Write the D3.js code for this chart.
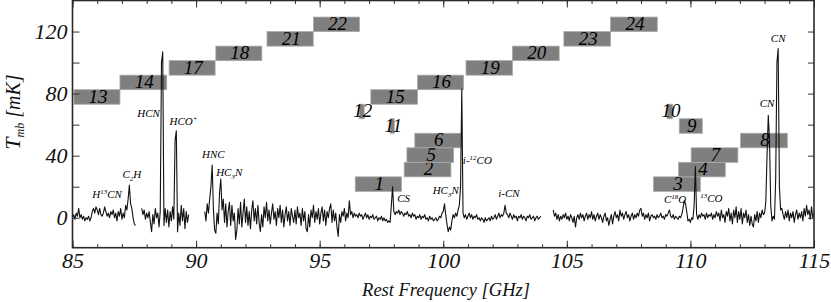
<!DOCTYPE html>
<html>
<head>
<meta charset="utf-8">
<script src="https://cdn.jsdelivr.net/npm/d3@7"></script>
<style>
  body { margin: 0; background: #fff; }
  svg { display: block; font-family: "Liberation Serif", "Times New Roman", serif; font-style: italic; }
</style>
</head>
<body>
<svg id="chart" width="831" height="302"></svg>
<script>
// -------------------- DATA -------------------- //

// spectrum pieces (mK), one value every 0.05 GHz from each start frequency
let freqStep = 0.05;
let segStart = [85.00, 87.80, 90.35, 104.45];

let specA = [
  0, 2, -1, 3, 1, 6, 0, 2, -1, 1, -2, 0, -1, 1, -2, 0, 4, 6, 3, 7,          // 85.00
  5, 2, 6, 2, 1, 3, 7, 4, 1, 3, 0, 4, 2, 5, 0, 3, -2, 4, 1, 6,              // 86.00
  -1, 3, 0, 8, 5, 12, 21, 9, 6, 0, -4, -5                                   // 87.00
];
let specB = [
  6, 2, 5, -1,                                                              // 87.80
  3, 0, 4, -3, -9, 2, -4, 6, 0, 3, -6, 4, 100, 107, -5, 6, -3, 5, -6, 4,    // 88.00
  -2, 7, -1, 50, 56, -9, 3, -5, 8, -2, 6, -7, 4, -3, 2                      // 89.00
];
let specC = [
  4, -2, 9, 3, 12, 20, 34, 6, -8, -10, 3, -4, 16,                           // 90.35
  25, 5, 12, -3, 9, -6, 4, 10, -5, 8, -2, 3, -14, -8, 6, -4, 10, -6, 3, 12, // 91.00
  -3, 7, -5, 4, -7, 5, 11, -2, 6, -4, 8, -3, -9, 2, -6, 7, 0, 10, -2, 5,    // 92.00
  -4, 3, 9, -1, 4, -5, 6, 0, 8, -3, 5, -6, 2, 7, -2, 4, -5, 6, 1, -3,       // 93.00
  5, -4, 7, 0, 3, -5, 6, -2, 4, -7, -9, 2, -6, 5, 0, 8, -3, 4, -1, 6,       // 94.00
  -4, 3, 7, -2, 5, -5, 4, 0, 6, 9, -3, 5, -2, 3, -6, -12, 2, -3, 4, 1,      // 95.00
  6, -2, 3, 0, 11, 2, 4, 0, 3, 1, 2, 0, 3, 1, 2, -1, 1, 3, 0, 2,            // 96.00
  -1, 1, 0, 2, -1, 0, 1, -2, 0, -1, 1, -2, 0, -2, -1, -3, -2, -3, 8, 20,    // 97.00
  4, 2, 4, 3, 5, 2, 4, 3, 1, 3, 2, 4, 1, 2, 0, 3, 1, 2, -1, 1,              // 98.00
  0, 2, -1, 1, 0, 2, -1, 0, -2, 1, -1, 0, -2, -1, 0, -2, -1, 1, 0, 3,       // 99.00
  4, 9, 2, -4, -9, -6, -8, -2, 2, 0, 3, 1, 5, 8, 20, 83, 3, 0, 2, -1,       // 100.00
  1, 3, 0, 2, -1, 1, 0, 2, -1, 0, -2, 0, -1, -3, 0, -2, -1, 0, -2, 1,       // 101.00
  -1, 0, 2, -1, 1, 3, 0, 2, 1, 3, 8, 3, 2, 0, 3, 1, -1, 2, 0, 1,            // 102.00
  -2, 1, 0, 2, -1, 1, 0, -2, 1, 0, 2, -1, 0, 1, -2, 0, 1, -1, 0, 1          // 103.00
];
let specD = [
  5, 1, 3, -1, 2, -2, 1, -1, 2, 0, 3,                                       // 104.45
  -1, 1, -2, 2, 0, -3, 1, -6, 0, 2, -1, 3, 0, 2, -2, 1, 3, -1, 2, 0,        // 105.00
  4, -1, 2, -2, 1, 3, -1, 2, 0, -3, 1, 3, -2, 0, -5, -1, 2, -4, 1, 4,       // 106.00
  0, 2, -2, 5, 1, 3, -1, 2, 4, 0, 2, -2, 1, 3, -1, 2, 0, 3, 1, 5,           // 107.00
  6, 1, 3, -1, 2, 0, 3, -2, 1, 2, 0, 1, -1, 2, 0, 1, 3, 0, 1, -1,           // 108.00
  2, 1, 3, 5, 1, 0, 2, -1, 1, 0, -1, 1, 0, 2, 6, 11, 9, 4, -2, -1,          // 109.00
  -3, 0, -1, 8, 33, 2, -1, 2, 0, 3, 1, 2, -1, 3, 0, 2, 1, 3, -1, 2,         // 110.00
  0, 4, 1, 3, -2, 5, 0, 2, -3, 4, 1, 6, -2, 3, -4, 5, 0, 7, -3, 4,          // 111.00
  -1, 6, -4, 3, 0, 5, -3, 2, -5, 1, -4, -6, 2, -2, 4, -3, 3, 0, 5, 2,       // 112.00
  3, 10, 40, 66, 50, 8, -2, 1, -1, 25, 100, 109, 20, 5, 6, 2, -1, 4, 0, 5,  // 113.00
  -2, 3, 0, 4, -3, 2, 5, -1, 3, 0, 4, -2, 6, 1, 8, 2, 5, -1, 7, 0, 3        // 114.00
];
let spectra = [specA, specB, specC, specD];

// tunings: id, frequency range (GHz), stacking level
let tuningIds   = [1, 2, 3, 4, 5, 6, 7, 8, 9, 10, 11, 12, 13, 14, 15, 16, 17, 18, 19, 20, 21, 22, 23, 24];
let tuningStart = [96.44, 98.42, 108.51, 109.52, 98.53, 98.85, 110.03, 112.03, 109.55, 109.06, 97.85, 96.60,
                   85.06, 86.92, 97.07, 98.96, 88.91, 90.80, 100.92, 102.80, 92.87, 94.75, 104.88, 106.77];
let tuningEnd   = [98.31, 100.31, 110.40, 111.41, 100.42, 100.71, 111.92, 113.92, 110.48, 109.28, 98.02, 96.80,
                   86.92, 88.81, 98.96, 100.82, 90.77, 92.66, 102.80, 104.69, 94.74, 96.61, 106.77, 108.66];
let tuningLevel = [0, 1, 0, 1, 2, 3, 2, 3, 4, 5, 4, 5, 6, 7, 6, 7, 8, 9, 8, 9, 10, 11, 10, 11];

// line identifications ("^" superscript, "_" subscript, parts split by "|")
let lineNames = ["H|^13|CN", "C|_2|H", "HCN", "HCO|^+", "HNC", "HC|_3|N", "CS", "HC|_3|N",
                 "i-|^12|CO", "i-CN", "C|^18|O", "^13|CO", "CN", "CN"];

let xTicks = [85, 90, 95, 100, 105, 110, 115];
let yTicks = [0, 40, 80, 120];

// -------------------- LAYOUT -------------------- //

let svg = d3.select("#chart");
let plotL = 72.5, plotR = 814, plotT = 0.5, plotB = 247.7;

let x = d3.scaleLinear().domain([85, 115]).range([plotL, plotR]);
let y = d3.scaleLinear().domain([-19.3, 140]).range([plotB, plotT]);

// label anchors in data units (GHz, mK)
let labelFreq = [86.40, 87.40, 88.08, 89.49, 90.70, 91.34, 98.40, 100.10, 101.38, 102.66, 109.38, 110.85, 113.10, 113.55];
let labelT    = [12.5, 25.4, 65.1, 59.8, 38.3, 26.9, 10.3, 15.1, 34.6, 13.6, 9.4, 10.3, 71.2, 113.5];

let boxBase = 17.0, boxStep = 9.36;   // mK

// -------------------- TUNING BOXES -------------------- //

let boxes = svg.append("g").selectAll("g")
  .data(tuningIds.map((id, i) => ({id: id, f0: tuningStart[i], f1: tuningEnd[i], lev: tuningLevel[i]})))
  .enter().append("g");

boxes.append("rect")
  .attr("x", d => x(d.f0))
  .attr("y", d => y(boxBase + (d.lev + 1) * boxStep))
  .attr("width", d => x(d.f1) - x(d.f0))
  .attr("height", d => y(boxBase + d.lev * boxStep) - y(boxBase + (d.lev + 1) * boxStep))
  .attr("fill", "#7f7f7f")
  .attr("stroke", "#a9a9a9")
  .attr("stroke-width", 0.8);

boxes.append("text")
  .attr("x", d => (x(d.f0) + x(d.f1)) / 2 + 1)
  .attr("y", d => y(boxBase + d.lev * boxStep) - 1.5)
  .attr("text-anchor", "middle")
  .attr("font-size", 19)
  .attr("fill", "#000")
  .text(d => d.id);

// -------------------- SPECTRUM -------------------- //

let line = d3.line().x(d => x(d[0])).y(d => y(d[1]));

spectra.forEach(function(s, k){
  let pts = s.map((v, i) => [segStart[k] + i * freqStep, v]);
  svg.append("path")
    .datum(pts)
    .attr("d", line)
    .attr("fill", "none")
    .attr("stroke", "#111")
    .attr("stroke-width", 1.1)
    .attr("stroke-linejoin", "round");
});

// -------------------- LINE LABELS -------------------- //

lineNames.forEach(function(name, i){
  let t = svg.append("text")
    .attr("x", x(labelFreq[i]))
    .attr("y", y(labelT[i]))
    .attr("dy", "0.35em")
    .attr("text-anchor", "middle")
    .attr("font-size", 11)
    .attr("fill", "#000");
  let shift = 0;
  name.split("|").forEach(function(p){
    let target = 0, txt = p, size = 11;
    if (p[0] === "^") { target = -4; txt = p.slice(1); size = 7; }
    if (p[0] === "_") { target = 3; txt = p.slice(1); size = 7; }
    t.append("tspan")
      .attr("dy", target - shift)
      .attr("font-size", size)
      .text(txt);
    shift = target;
  });
});

// -------------------- AXES -------------------- //

let axisStyle = g => {
  g.select(".domain").remove();
  g.selectAll(".tick line").attr("stroke", "#333").attr("stroke-width", 1);
  g.selectAll(".tick text").attr("font-size", 22).attr("fill", "#111")
    .attr("font-family", "'Liberation Serif', serif").attr("font-style", "italic");
};

let minorX = d3.range(85, 116);
let minorY = d3.range(0, 140, 20);

svg.append("g").attr("transform", `translate(0,${plotB})`)
  .call(d3.axisBottom(x).tickValues(minorX).tickSize(-3.5).tickFormat("")).call(axisStyle);
svg.append("g").attr("transform", `translate(0,${plotB})`)
  .call(d3.axisBottom(x).tickValues(xTicks).tickSize(-7).tickPadding(5).tickFormat(d3.format("d"))).call(axisStyle);

svg.append("g").attr("transform", `translate(0,${plotT})`)
  .call(d3.axisTop(x).tickValues(minorX).tickSize(-3.5).tickFormat("")).call(axisStyle);
svg.append("g").attr("transform", `translate(0,${plotT})`)
  .call(d3.axisTop(x).tickValues(xTicks).tickSize(-7).tickFormat("")).call(axisStyle);

svg.append("g").attr("transform", `translate(${plotL},0)`)
  .call(d3.axisLeft(y).tickValues(minorY).tickSize(-7).tickPadding(5)
    .tickFormat(d => yTicks.includes(d) ? d : "")).call(axisStyle);
svg.append("g").attr("transform", `translate(${plotR},0)`)
  .call(d3.axisRight(y).tickValues(minorY).tickSize(-6).tickFormat("")).call(axisStyle);

// frame
svg.append("rect")
  .attr("x", plotL).attr("y", plotT)
  .attr("width", plotR - plotL).attr("height", plotB - plotT)
  .attr("fill", "none")
  .attr("stroke", "#2a2a2a")
  .attr("stroke-width", 1.6);

// titles
svg.append("text")
  .attr("x", 446).attr("y", 296)
  .attr("text-anchor", "middle")
  .attr("font-size", 18.5)
  .attr("fill", "#111")
  .text("Rest Frequency [GHz]");

let yt = svg.append("text")
  .attr("transform", "translate(20,112) rotate(-90)")
  .attr("text-anchor", "middle")
  .attr("fill", "#111");
yt.append("tspan").attr("font-size", 22).text("T");
yt.append("tspan").attr("font-size", 12).attr("dy", 4).text("mb");
yt.append("tspan").attr("font-size", 20).attr("dy", -4).text(" [mK]");
</script>
</body>
</html>
